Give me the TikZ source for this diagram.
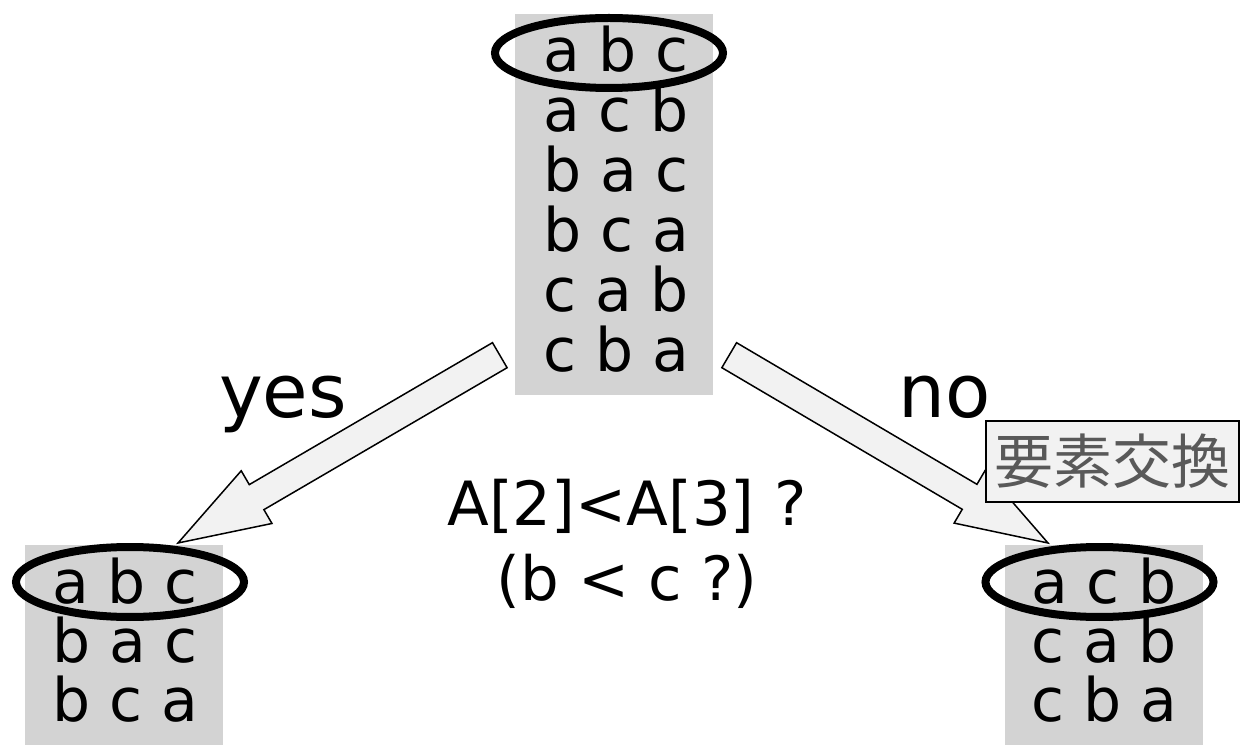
\documentclass[tikz,border=0pt]{standalone}
\usepackage{fontspec}
\setmainfont{DejaVu Sans}
\newfontfamily\jpfont{Noto Sans CJK JP}
\usetikzlibrary{calc}

\tikzset{
  permbox/.style={fill=boxColor, inner sep=0pt, minimum width=198pt},
  permrow/.style={anchor=base, inner sep=0pt, font=\fontsize{60}{60}\selectfont},
  picked/.style={draw=black, line width=8pt},
  answer/.style={anchor=base, inner sep=0pt, font=\fontsize{74}{74}\selectfont},
  question/.style={anchor=base, inner sep=0pt, font=\fontsize{61}{61}\selectfont},
  swapnote/.style={draw=black, line width=2pt, fill=arrowColor, text=noteColor,
    font=\jpfont\fontsize{59}{59}\selectfont, inner sep=0pt,
    minimum width=253pt, minimum height=81pt}
}

% wide outlined arrow from #1 (tail) to #2 (tip)
\newcommand{\blockarrow}[2]{%
  \path ($(#2)!91pt!(#1)$) coordinate (neck);
  \filldraw[fill=arrowColor, draw=black, line width=1.5pt, line join=miter]
    ($(#1)!14.5pt!90:(#2)$) -- ($(neck)!14.5pt!90:(#2)$) --
    ($(neck)!30.5pt!90:(#2)$) -- (#2) --
    ($(neck)!30.5pt!-90:(#2)$) -- ($(neck)!14.5pt!-90:(#2)$) --
    ($(#1)!14.5pt!-90:(#2)$) -- cycle;
}

\begin{document}
\begin{tikzpicture}[x=1pt,y=1pt]
\definecolor{boxColor}{RGB}{211,211,211}
\definecolor{arrowColor}{RGB}{242,242,242}
\definecolor{noteColor}{RGB}{89,89,89}
\useasboundingbox[fill=white] (0,0) rectangle (1242,745);

% all six orders
\node[permbox, minimum height=381pt] (rootbox) at (614,540.5) {};
\foreach \p [count=\i] in {a b c, a c b, b a c, b c a, c a b, c b a}
  \node[permrow] (root-\i) at (616,{673-(\i-1)*60}) {\p};

% A[2] < A[3] holds
\node[permbox, minimum height=200pt] (yesbox) at (124,100) {};
\foreach \p [count=\i] in {a b c, b a c, b c a}
  \node[permrow] (yes-\i) at (125,{142-(\i-1)*59}) {\p};

% A[2] < A[3] fails, swapped
\node[permbox, minimum height=200pt] (nobox) at (1104,100) {};
\foreach \p [count=\i] in {a c b, c a b, c b a}
  \node[permrow] (no-\i) at (1104,{142-(\i-1)*59}) {\p};

% branches
\coordinate (yestail) at ($(rootbox.south west)+(-15,40)$);
\coordinate (notail) at ($(rootbox.south east)+(16,40)$);
\coordinate (yestip) at (178,202);
\coordinate (notip) at (1048,202);
\blockarrow{yestail}{yestip}
\blockarrow{notail}{notip}

% rings round the compared order
\coordinate (rootsel) at (609,692);
\coordinate (yessel) at (130,163);
\coordinate (nosel) at (1099.5,163);
\foreach \s in {rootsel, yessel, nosel}
  \draw[picked] (\s) ellipse [x radius=114, y radius=35];

\node[answer] (yeslabel) at (283,327) {yes};
\node[answer] (nolabel) at (945,327) {no};
\node[question] (test) at (627,220) {A[2]<A[3] ?};
\node[question] (testb) at (627,145) {(b < c ?)};

\node[swapnote] (swap) at (1112.5,283.5) {要素交換};
\end{tikzpicture}
\end{document}
